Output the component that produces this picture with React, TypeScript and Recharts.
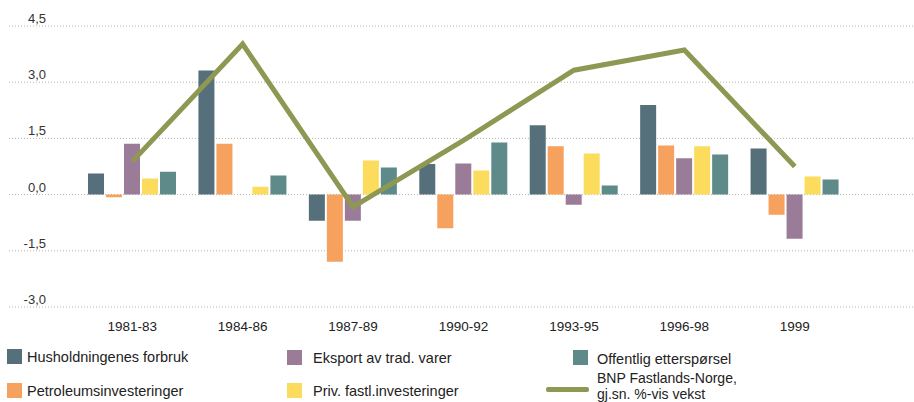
import React from "react";
import { ComposedChart, Bar, Line, XAxis, YAxis, CartesianGrid } from "recharts";

const periods = ["1981-83", "1984-86", "1987-89", "1990-92", "1993-95", "1996-98", "1999"];
const husholdning = [0.56, 3.31, -0.7, 0.82, 1.85, 2.39, 1.23];
const petroleum = [-0.07, 1.36, -1.79, -0.9, 1.29, 1.31, -0.54];
const eksport = [1.36, 0, -0.7, 0.83, -0.27, 0.97, -1.18];
const privInv = [0.43, 0.21, 0.91, 0.64, 1.1, 1.29, 0.48];
const offentlig = [0.61, 0.51, 0.72, 1.39, 0.24, 1.07, 0.4];
const bnp = [0.88, 4.02, -0.33, 1.45, 3.32, 3.86, 0.75];
const yTicks = [-3, -1.5, 0, 1.5, 3, 4.5];

const C = {
  hus: "#55707b",
  petro: "#f6a15d",
  eks: "#9a7c99",
  priv: "#fcdc5c",
  off: "#5e8a89",
  bnp: "#8e9853",
};

const FONT = "'Liberation Sans', Arial, sans-serif";

const chartData = periods.map((p, i) => ({
  period: p,
  hus: husholdning[i],
  petro: petroleum[i],
  eks: eksport[i],
  priv: privInv[i],
  off: offentlig[i],
  bnp: bnp[i],
}));

// y labels sit above the gridline, right aligned
const YTick = (props: any) => {
  const { y, payload } = props;
  return (
    <text x={46} y={y - 3} textAnchor="end" fontSize={13} fill="#333" fontFamily={FONT}>
      {Number(payload.value).toFixed(1).replace(".", ",")}
    </text>
  );
};

const XTick = (props: any) => {
  const { x, y, payload } = props;
  return (
    <text x={x} y={y + 22} textAnchor="middle" fontSize={13.5} fill="#222" fontFamily={FONT}>
      {payload.value}
    </text>
  );
};

const Swatch = ({ color, left, top }: { color: string; left: number; top: number }) => (
  <div style={{ position: "absolute", left, top, width: 15, height: 15, background: color }} />
);

const Label = ({ text, left, top, size = 14.5 }: { text: string; left: number; top: number; size?: number }) => (
  <div
    style={{
      position: "absolute",
      left,
      top,
      fontSize: size,
      lineHeight: "16px",
      color: "#222",
      fontFamily: FONT,
      whiteSpace: "nowrap",
    }}
  >
    {text}
  </div>
);

export default function App() {
  return (
    <div style={{ position: "absolute", left: 0, top: 0, width: 914, height: 402, background: "#fff" }}>
      <ComposedChart
        width={914}
        height={402}
        data={chartData}
        margin={{ top: 26, right: 0, bottom: 65, left: 8 }}
        barSize={16}
        barGap={2}
      >
        <CartesianGrid horizontal vertical={false} stroke="#b5b5b0" strokeDasharray="1 2" />
        <XAxis
          dataKey="period"
          axisLine={false}
          tickLine={false}
          tickSize={0}
          height={30}
          padding={{ left: 68, right: 64 }}
          tick={<XTick />}
          interval={0}
        />
        <YAxis
          width={1}
          domain={[-3, 4.5]}
          ticks={yTicks}
          interval={0}
          axisLine={false}
          tickLine={false}
          tick={<YTick />}
          allowDataOverflow
        />
        <Bar dataKey="hus" fill={C.hus} isAnimationActive={false} />
        <Bar dataKey="petro" fill={C.petro} isAnimationActive={false} />
        <Bar dataKey="eks" fill={C.eks} isAnimationActive={false} />
        <Bar dataKey="priv" fill={C.priv} isAnimationActive={false} />
        <Bar dataKey="off" fill={C.off} isAnimationActive={false} />
        <Line
          dataKey="bnp"
          type="linear"
          stroke={C.bnp}
          strokeWidth={5}
          dot={false}
          isAnimationActive={false}
        />
      </ComposedChart>

      <Swatch color={C.hus} left={7} top={349} />
      <Label text="Husholdningenes forbruk" left={27} top={349} />
      <Swatch color={C.eks} left={287} top={350} />
      <Label text="Eksport av trad. varer" left={313} top={350} />
      <Swatch color={C.off} left={573} top={350} />
      <Label text="Offentlig etterspørsel" left={597} top={351} />

      <Swatch color={C.petro} left={7} top={383} />
      <Label text="Petroleumsinvesteringer" left={27} top={383} />
      <Swatch color={C.priv} left={287} top={383} />
      <Label text="Priv. fastl.investeringer" left={313} top={383} />
      <div style={{ position: "absolute", left: 546, top: 387, width: 43, height: 5, background: C.bnp, borderRadius: 2 }} />
      <Label text="BNP Fastlands-Norge," left={597} top={370} size={14} />
      <Label text="gj.sn. %-vis vekst" left={597} top={386} size={14} />
    </div>
  );
}
